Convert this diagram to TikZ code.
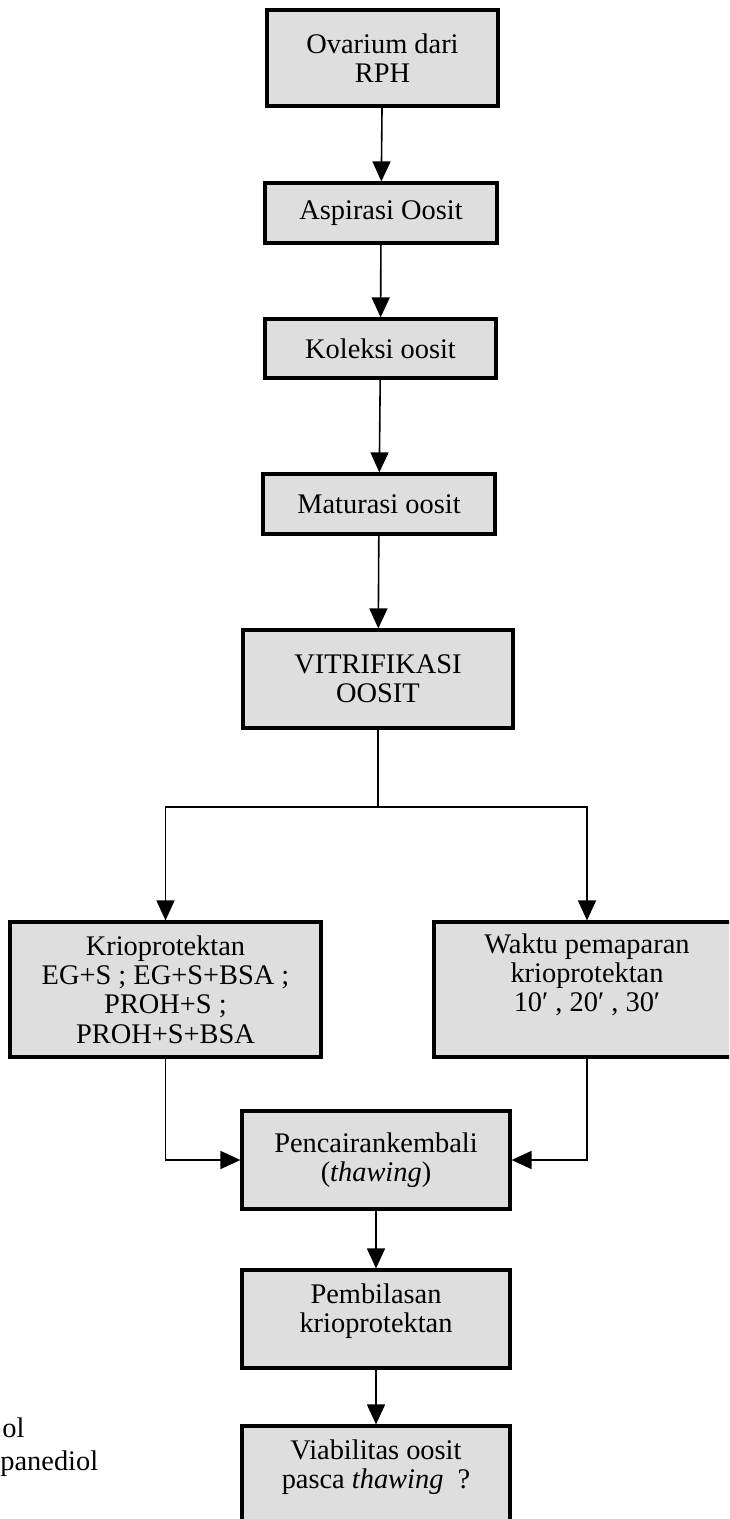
\documentclass[tikz,border=0pt]{standalone}
\usepackage{fontspec}
\setmainfont{Liberation Serif}
\usetikzlibrary{arrows.meta}

\begin{document}
\begin{tikzpicture}[x=0.5pt,y=0.5pt,yscale=-1,xscale=1,
  kotak/.style={draw,line width=1.6pt,fill={rgb, 255:red, 222; green, 222; blue, 222},inner sep=0pt,align=center,font=\fontsize{14.2}{14.6}\selectfont},
  panah/.style={line width=0.8pt,-{Triangle[width=9pt,length=10pt]}},
  garis/.style={line width=0.8pt}]
\clip (0,0) rectangle (729,1519);
\node [kotak,minimum width=115.5pt,minimum height=48pt] (ovarium) at (382.5,58) {Ovarium dari\\RPH};
\node [kotak,minimum width=116pt,minimum height=30pt] (aspirasi) at (381,213) {Aspirasi Oosit};
\node [kotak,minimum width=115.5pt,minimum height=29.5pt] (koleksi) at (380.5,348.5) {Koleksi oosit};
\node [kotak,minimum width=116pt,minimum height=30pt] (maturasi) at (379,504) {Maturasi oosit};
\node [kotak,minimum width=135pt,minimum height=49pt] (vitri) at (378,679) {VITRIFIKASI\\OOSIT};
\node [kotak,minimum width=155.5pt,minimum height=67.5pt] (krio) at (165.5,989.5) {Krioprotektan\\EG+S ; EG+S+BSA ;\\PROH+S ;\\PROH+S+BSA};
\node [kotak,minimum width=153pt,minimum height=67.5pt] (waktu) at (587,989.5) {Waktu pemaparan\\krioprotektan\\10′ , 20′ , 30′\\[2pt]\mbox{}};
\node [kotak,minimum width=134pt,minimum height=49pt] (cair) at (376,1160) {Pencairankembali\\(\textit{thawing})};
\node [kotak,minimum width=134pt,minimum height=49pt] (bilas) at (376,1319) {Pembilasan\\krioprotektan\\[-4pt]\mbox{}};
\node [kotak,minimum width=134pt,minimum height=49pt] (viabel) at (376,1475) {Viabilitas oosit\\pasca \textit{thawing} \ ?\\[-4pt]\mbox{}};
\coordinate (cabang) at (378,807);
\draw [panah] (ovarium) -- (aspirasi);
\draw [panah] (aspirasi) -- (koleksi);
\draw [panah] (koleksi) -- (maturasi);
\draw [panah] (maturasi) -- (vitri);
\draw [garis] (vitri) -- (cabang);
\draw [panah] (cabang) -| (krio);
\draw [panah] (cabang) -| (waktu);
\draw [panah] (krio) |- (cair);
\draw [panah] (waktu) |- (cair);
\draw [panah] (cair) -- (bilas);
\draw [panah] (bilas) -- (viabel);
\node [anchor=base west,inner sep=0pt,font=\fontsize{14.2}{14.6}\selectfont] (ket1) at (2,1437) {ol};
\node [anchor=base west,inner sep=0pt,font=\fontsize{14.2}{14.6}\selectfont] (ket2) at (0,1470) {panediol};
\end{tikzpicture}
\end{document}
